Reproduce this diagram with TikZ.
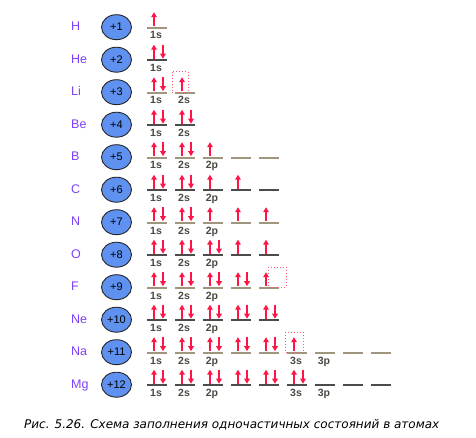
\documentclass[tikz,border=0pt]{standalone}
\usepackage{fontspec}
\setmainfont{Liberation Sans}
\newfontfamily\capfont{DejaVu Sans}
\usetikzlibrary{shapes.geometric,arrows.meta}

\definecolor{elemviolet}{RGB}{125,65,250}
\definecolor{nucblue}{RGB}{95,145,240}
\definecolor{spinred}{RGB}{255,20,70}
\definecolor{boxred}{RGB}{255,95,115}
\definecolor{levellight}{RGB}{160,150,125}
\definecolor{leveldark}{RGB}{75,75,75}
\definecolor{labelgray}{RGB}{75,72,64}

\tikzstyle{elem_label} = [anchor=base west, inner sep=0pt, text=elemviolet, font=\fontsize{12.5}{14}\selectfont]
\tikzstyle{nucleus} = [ellipse, draw=black!85, line width=0.9pt, fill=nucblue, minimum width=30pt, minimum height=25pt, inner sep=0pt, font=\fontsize{11}{12}\selectfont]
\tikzstyle{orb_label} = [anchor=base, inner sep=0pt, text=labelgray, font=\bfseries\fontsize{10.5}{11}\selectfont]
\tikzstyle{level_light} = [draw=levellight, line width=1.9pt]
\tikzstyle{level_dark} = [draw=leveldark, line width=1.9pt]
\tikzstyle{spin} = [draw=spinred, line width=1.4pt, -{Triangle[width=5.5pt,length=5pt]}]
\tikzstyle{vacancy} = [draw=boxred, dotted, line width=1pt]

\begin{document}
\begin{tikzpicture}[x=1pt, y=-1pt]
		\useasboundingbox (0,0) rectangle (476,438);
		\def\rowy#1{(27.7+32.5*(#1))}
		\def\colx#1{(147+28*(#1))}
		% one level: row, column, number of electrons
		\def\orb#1#2#3{%
			\ifodd#1\tikzset{lvl/.style=level_dark}\else\tikzset{lvl/.style=level_light}\fi
			\draw[lvl] ({\colx{#2}},{\rowy{#1}}) -- ++(20,0);
			\ifnum#3>0 \draw[spin] ({\colx{#2}+7},{\rowy{#1}-1.5}) -- ++(0,-14);\fi
			\ifnum#3>1 \draw[spin] ({\colx{#2}+16},{\rowy{#1}-15.5}) -- ++(0,14);\fi}
		\def\lbl#1#2#3{\node[orb_label] (l#1#3) at ({\colx{#2}+9},{\rowy{#1}+11.3}) {#3};}
		\def\elem#1#2#3{%
			\node[elem_label] (#2) at (71,{\rowy{#1}+3}) {#2};
			\node[nucleus] (n#2) at (116.5,{\rowy{#1}-0.5}) {#3};}
		
		\elem{0}{H}{+1}   \orb{0}{0}{1} \lbl{0}{0}{1s}
		\elem{1}{He}{+2}  \orb{1}{0}{2} \lbl{1}{0}{1s}
		\elem{2}{Li}{+3}  \orb{2}{0}{2} \orb{2}{1}{1} \lbl{2}{0}{1s} \lbl{2}{1}{2s}
		\elem{3}{Be}{+4}  \orb{3}{0}{2} \orb{3}{1}{2} \lbl{3}{0}{1s} \lbl{3}{1}{2s}
		\elem{4}{B}{+5}   \orb{4}{0}{2} \orb{4}{1}{2} \orb{4}{2}{1} \orb{4}{3}{0} \orb{4}{4}{0}
		\elem{5}{C}{+6}   \orb{5}{0}{2} \orb{5}{1}{2} \orb{5}{2}{1} \orb{5}{3}{1} \orb{5}{4}{0}
		\elem{6}{N}{+7}   \orb{6}{0}{2} \orb{6}{1}{2} \orb{6}{2}{1} \orb{6}{3}{1} \orb{6}{4}{1}
		\elem{7}{O}{+8}   \orb{7}{0}{2} \orb{7}{1}{2} \orb{7}{2}{2} \orb{7}{3}{1} \orb{7}{4}{1}
		\elem{8}{F}{+9}   \orb{8}{0}{2} \orb{8}{1}{2} \orb{8}{2}{2} \orb{8}{3}{2} \orb{8}{4}{1}
		\elem{9}{Ne}{+10} \orb{9}{0}{2} \orb{9}{1}{2} \orb{9}{2}{2} \orb{9}{3}{2} \orb{9}{4}{2}
		\elem{10}{Na}{+11} \orb{10}{0}{2} \orb{10}{1}{2} \orb{10}{2}{2} \orb{10}{3}{2} \orb{10}{4}{2}
		\orb{10}{5}{1} \orb{10}{6}{0} \orb{10}{7}{0} \orb{10}{8}{0}
		\elem{11}{Mg}{+12} \orb{11}{0}{2} \orb{11}{1}{2} \orb{11}{2}{2} \orb{11}{3}{2} \orb{11}{4}{2}
		\orb{11}{5}{2} \orb{11}{6}{0} \orb{11}{7}{0} \orb{11}{8}{0}
		\foreach \r in {4,...,9} {\lbl{\r}{0}{1s} \lbl{\r}{1}{2s} \lbl{\r}{2}{2p}}
		\foreach \r in {10,11} {\lbl{\r}{0}{1s} \lbl{\r}{1}{2s} \lbl{\r}{2}{2p} \lbl{\r}{5}{3s} \lbl{\r}{6}{3p}}
		
		% free places
		\draw[vacancy] ({\colx{1}-3},{\rowy{2}-21}) rectangle ({\colx{1}+13},{\rowy{2}});
		\draw[vacancy] ({\colx{4}+9},{\rowy{8}-20.7}) rectangle ({\colx{4}+27},{\rowy{8}-0.7});
		\draw[vacancy] ({\colx{5}-2},{\rowy{10}-20.7}) rectangle ({\colx{5}+16},{\rowy{10}-0.7});
		
		\node (caption) at (231.7,425) {\capfont\itshape\fontsize{12}{14}\selectfont Рис. 5.26. Схема заполнения одночастичных состояний в атомах};
		\end{tikzpicture}
\end{document}
